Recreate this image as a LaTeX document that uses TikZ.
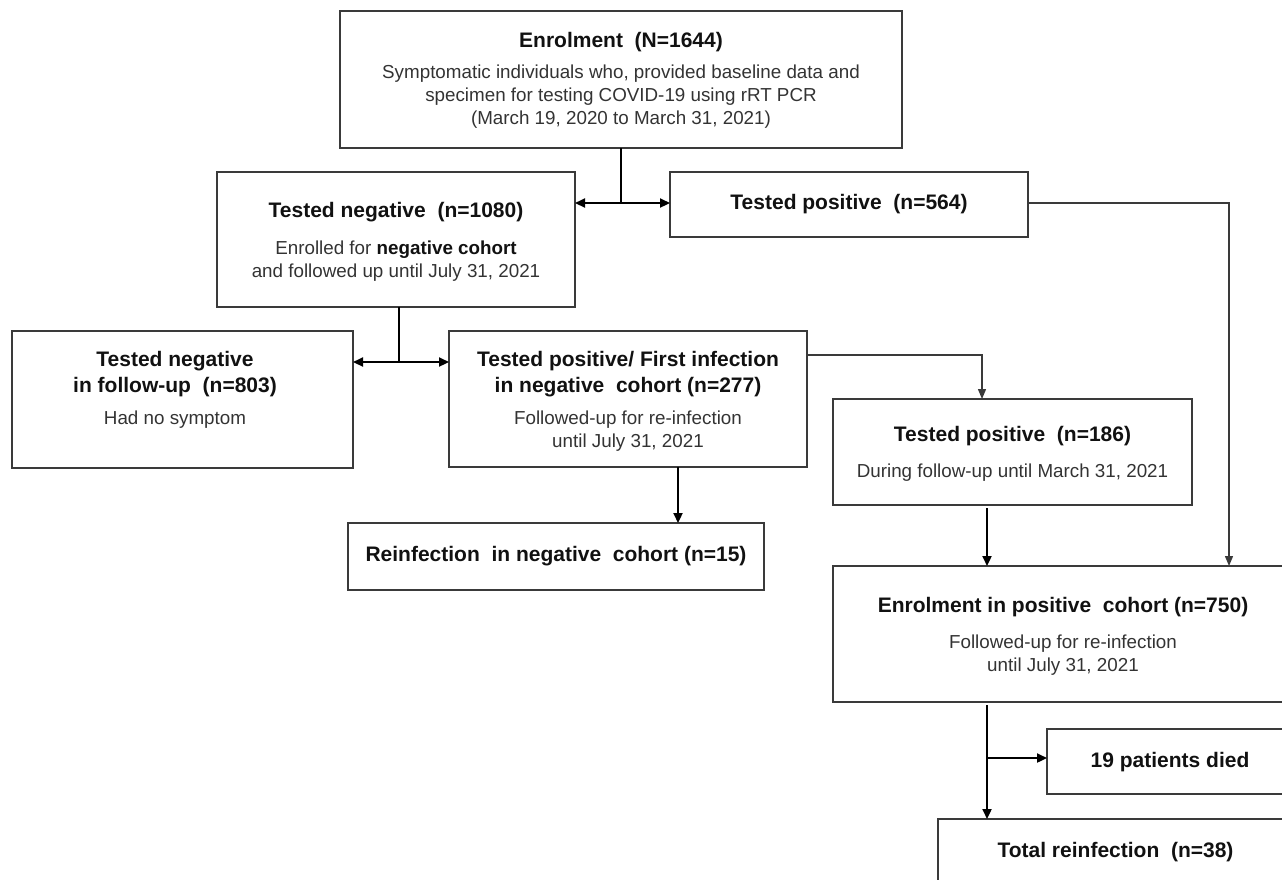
\documentclass[tikz,border=0pt]{standalone}
\usepackage{fontspec}
\setmainfont{Liberation Sans}
\usetikzlibrary{arrows.meta}
\definecolor{boxline}{HTML}{3A3A3A}
\definecolor{bodytxt}{HTML}{333333}
\definecolor{titletxt}{HTML}{111111}
\tikzset{
  box/.style={draw=boxline, line width=1.4pt, anchor=north west, inner sep=0pt, outer sep=0pt},
  ttl/.style={font=\fontsize{21}{26}\selectfont\bfseries, text=titletxt, align=center, inner sep=0pt},
  bdy/.style={font=\fontsize{18.8}{23}\selectfont, text=bodytxt, align=center, inner sep=0pt},
  thick arrow/.style={draw=black, line width=2.2pt, -{Triangle[length=10pt,width=9pt]}},
  thick line/.style={draw=black, line width=2.2pt},
  thin arrow/.style={draw=boxline, line width=1.3pt, -{Triangle[length=10pt,width=8pt]}},
}
\begin{document}
\begin{tikzpicture}[x=1pt,y=-1pt]
\path[use as bounding box] (0,0) rectangle (1282,879);
\clip (0,0) rectangle (1282,879);
% boxes
\node[box, minimum width=562pt, minimum height=137pt] (enrol) at (340,11) {};
\node[box, minimum width=358pt, minimum height=135pt] (neg) at (217,172) {};
\node[box, minimum width=358pt, minimum height=65pt] (pos) at (670,172) {};
\node[box, minimum width=341pt, minimum height=137pt] (negfu) at (12,331) {};
\node[box, minimum width=358pt, minimum height=136pt] (first) at (449,331) {};
\node[box, minimum width=359pt, minimum height=106pt] (posfu) at (833,399) {};
\node[box, minimum width=416pt, minimum height=67pt] (reinf) at (348,523) {};
\node[box, minimum width=460pt, minimum height=136pt] (enrolpos) at (833,566) {};
\node[box, minimum width=246pt, minimum height=65pt] (died) at (1047,729) {};
\node[box, minimum width=355pt, minimum height=80pt] (total) at (938,819) {};
% texts
\node[ttl] (enrolT) at (621,42) {Enrolment\ \ (N=1644)};
\node[bdy] (enrolB) at (621,97) {Symptomatic individuals who, provided baseline data and\\specimen for testing COVID-19 using rRT PCR\\(March 19, 2020 to March 31, 2021)};
\node[ttl] (negT) at (396,212) {Tested negative\ \ (n=1080)};
\node[bdy] (negB) at (396,261.5) {Enrolled for \textbf{\color{titletxt}negative cohort}\\and followed up until July 31, 2021};
\node[ttl] (posT) at (849,204) {Tested positive\ \ (n=564)};
\node[ttl] (negfuT) at (175,374) {Tested negative\\in follow-up\ \ (n=803)};
\node[bdy] (negfuB) at (175,420) {Had no symptom};
\node[ttl] (firstT) at (628,374) {Tested positive/ First infection\\in negative\ \ cohort (n=277)};
\node[bdy] (firstB) at (628,431.5) {Followed-up for re-infection\\until July 31, 2021};
\node[ttl] (posfuT) at (1012.5,436) {Tested positive\ \ (n=186)};
\node[bdy] (posfuB) at (1012.5,473) {During follow-up until March 31, 2021};
\node[ttl] (reinfT) at (556,556) {Reinfection\ \ in negative\ \ cohort (n=15)};
\node[ttl] (enrolposT) at (1063,607) {Enrolment in positive\ \ cohort (n=750)};
\node[bdy] (enrolposB) at (1063,655.5) {Followed-up for re-infection\\until July 31, 2021};
\node[ttl] (diedT) at (1170,762) {19 patients died};
\node[ttl] (totalT) at (1115.5,852) {Total reinfection\ \ (n=38)};
% junction coordinates
\coordinate (j1) at (621,203);
\coordinate (j2) at (399,362);
\coordinate (c3) at (678,0);
\coordinate (c4) at (982,355);
\coordinate (c5) at (1229,203);
\coordinate (c6) at (987,0);
\coordinate (j7) at (987,758);
% connectors
\draw[thick line] (enrol.south -| j1) -- (j1);
\draw[thick arrow] (j1) -- (neg.east |- j1);
\draw[thick arrow] (j1) -- (pos.west |- j1);
\draw[thick line] (neg.south -| j2) -- (j2);
\draw[thick arrow] (j2) -- (negfu.east |- j2);
\draw[thick arrow] (j2) -- (first.west |- j2);
\draw[thick arrow] (first.south -| c3) -- (reinf.north -| c3);
\draw[thin arrow] (first.east |- c4) -- (c4) -- (posfu.north -| c4);
\draw[thin arrow] (pos.east |- c5) -- (c5) -- (enrolpos.north -| c5);
\draw[thick arrow] ([yshift=-3pt]posfu.south -| c6) -- (enrolpos.north -| c6);
\draw[thick arrow] ([yshift=-3pt]enrolpos.south -| c6) -- (total.north -| c6);
\draw[thick arrow] (j7) -- (died.west |- j7);
\end{tikzpicture}
\end{document}
